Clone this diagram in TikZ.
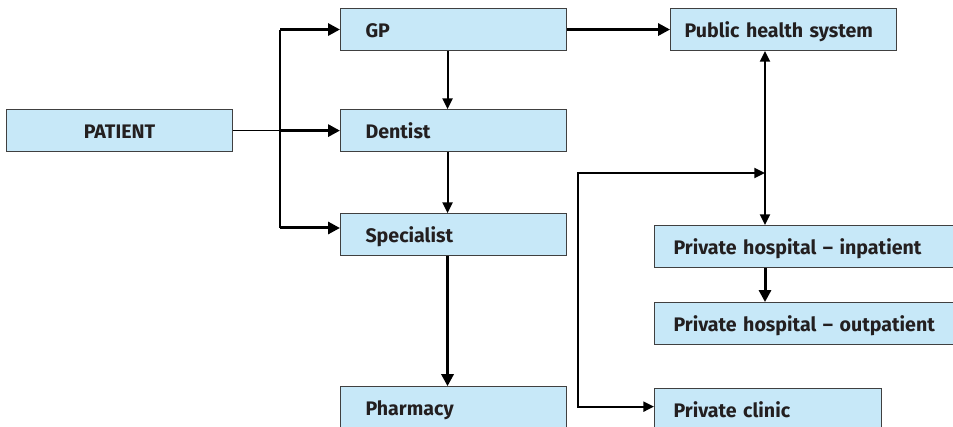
\documentclass[tikz,border=0pt]{standalone}
\usepackage{fontspec}
\setmainfont{Fira Sans}
\usetikzlibrary{positioning,arrows.meta}
\definecolor{boxblue}{RGB}{199,232,248}
\definecolor{inkgray}{RGB}{35,31,32}

\begin{document}
\begin{tikzpicture}[x=0.75pt, y=-0.75pt,
    box/.style={rectangle, draw=black!75, line width=0.8pt, fill=boxblue, minimum height=31.5pt, inner ysep=0pt, text height=12pt, text depth=0pt, text=inkgray, font=\fontsize{14.7}{17}\selectfont\bfseries, align=left, inner xsep=18.75pt, text width=132pt},
    widebox/.style={box, inner xsep=14.25pt, text width=202.5pt},
    link/.style={line width=1.3pt},
    arrow/.style={-{Triangle[length=8pt,width=7.5pt]}, line width=1.5pt},
    bigarrow/.style={-{Triangle[length=9pt,width=9pt]}, line width=2.25pt}]

    \useasboundingbox (0,0) rectangle (953,427);

    \node[box, anchor=north west] (gp) at (340,8) {GP};
    \node[box, below=43.5pt of gp] (dentist) {Dentist};
    \node[box, below=45.75pt of dentist] (specialist) {Specialist};
    \node[box, below=97.5pt of specialist] (pharmacy) {Pharmacy};
    \node[box, align=center, left=80.25pt of dentist] (patient) {PATIENT};
    \node[box, inner xsep=10.5pt, text width=148.5pt, right=77.25pt of gp] (public) {Public health system};
    \node[widebox, anchor=north west] (inpatient) at (654,225) {Private hospital -- inpatient};
    \node[widebox, below=25.5pt of inpatient] (outpatient) {Private hospital -- outpatient};
    \node[box, inner xsep=14.25pt, text width=141.75pt, below=32.25pt of outpatient.south west, anchor=north west] (clinic) {Private clinic};

    \coordinate (split) at ([xshift=35.25pt]patient.east);
    \coordinate (lowsplit) at (280,228);
    \coordinate (hub) at (765,173);
    \coordinate (bend) at (578,173);
    \coordinate (clinicin) at ([yshift=2.25pt]clinic.west);

    \draw[line width=1pt] (patient) -- (split);
    \draw[link] (split |- gp) -- (lowsplit);
    \draw[bigarrow] (split |- gp) -- (gp);
    \draw[bigarrow] (split) -- (dentist);
    \draw[bigarrow] (lowsplit) -- (lowsplit -| specialist.west);
    \draw[bigarrow] (gp) -- (public);

    \draw[arrow] ([xshift=-4.5pt]gp.south) -- ([xshift=-4.5pt]dentist.north);
    \draw[arrow] ([xshift=-4.5pt]dentist.south) -- ([xshift=-4.5pt]specialist.north);
    \draw[bigarrow] ([xshift=-4.5pt]specialist.south) -- ([xshift=-4.5pt]pharmacy.north);

    \draw[arrow, {Triangle[length=8pt,width=7.5pt]}-{Triangle[length=8pt,width=7.5pt]}] (hub |- public.south) -- (hub |- inpatient.north);
    \draw[bigarrow] (hub |- inpatient.south) -- (hub |- outpatient.north);
    \draw[arrow, {Triangle[length=8pt,width=7.5pt]}-{Triangle[length=8pt,width=7.5pt]}] (hub) -- (bend) -- (bend |- clinicin) -- (clinicin);
\end{tikzpicture}
\end{document}
